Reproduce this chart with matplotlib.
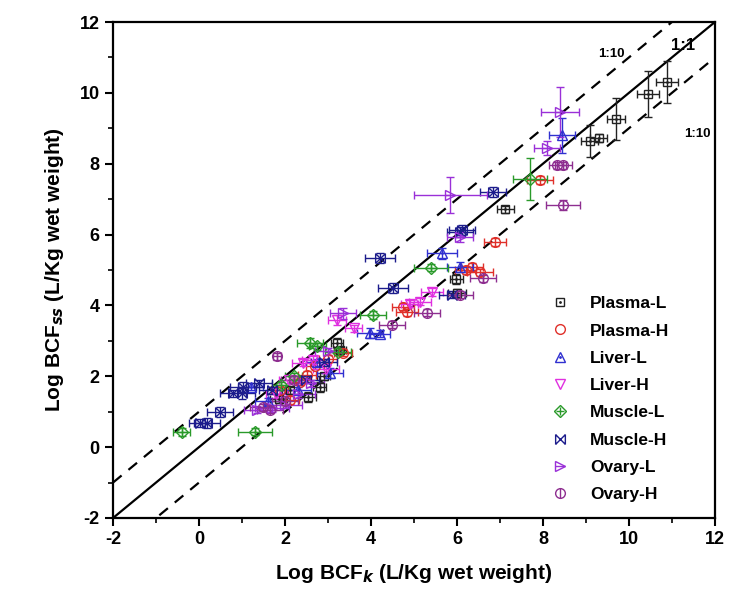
import numpy as np
import matplotlib
matplotlib.use('Agg')
import matplotlib.pyplot as plt
from matplotlib.lines import Line2D
from matplotlib.path import Path
from matplotlib.ticker import MultipleLocator

plt.rcParams['font.family'] = ['Liberation Sans', 'DejaVu Sans']
plt.rcParams['font.weight'] = 'bold'
plt.rcParams['axes.unicode_minus'] = False

# values (log BCF_k, log BCF_ss, x error, y error)
plasma_l_x = [10.88, 10.44, 9.70, 9.09, 9.30, 7.12, 5.98, 6.00, 3.21, 3.28, 2.81, 2.53, 2.12, 2.90, 1.85]
plasma_l_y = [10.31, 9.97, 9.26, 8.64, 8.72, 6.72, 4.75, 4.35, 2.94, 2.74, 1.70, 1.42, 1.61, 2.00, 1.35]
plasma_l_xe = [0.25, 0.25, 0.2, 0.2, 0.2, 0.2, 0.15, 0.2, 0.15, 0.15, 0.15, 0.2, 0.2, 0.15, 0.2]
plasma_l_ye = [0.6, 0.65, 0.6, 0.45, 0.12, 0.1, 0.15, 0.1, 0.15, 0.1, 0.15, 0.15, 0.1, 0.1, 0.1]

plasma_h_x = [7.93, 6.88, 6.35, 6.20, 6.53, 4.84, 4.74, 3.35, 2.35, 2.51, 1.88, 2.12, 2.70, 3.00]
plasma_h_y = [7.54, 5.79, 5.08, 5.00, 4.94, 3.81, 3.96, 2.66, 1.84, 2.04, 1.61, 1.33, 2.30, 2.50]
plasma_h_xe = [0.3, 0.25, 0.25, 0.25, 0.3, 0.25, 0.25, 0.2, 0.25, 0.2, 0.2, 0.2, 0.2, 0.2]
plasma_h_ye = [0.1, 0.1, 0.12, 0.1, 0.1, 0.1, 0.1, 0.1, 0.1, 0.1, 0.1, 0.1, 0.1, 0.1]

liver_l_x = [8.44, 5.65, 6.07, 3.98, 3.05, 4.20, 2.30, 1.60, 2.75, 1.20]
liver_l_y = [8.80, 5.47, 5.08, 3.22, 2.09, 3.20, 1.60, 1.30, 2.40, 1.70]
liver_l_xe = [0.3, 0.35, 0.3, 0.3, 0.3, 0.25, 0.3, 0.3, 0.25, 0.3]
liver_l_ye = [0.5, 0.15, 0.15, 0.15, 0.15, 0.1, 0.1, 0.1, 0.1, 0.1]

liver_h_x = [5.42, 5.14, 3.21, 2.42, 2.65, 4.90, 3.60, 2.10, 1.80, 2.95]
liver_h_y = [4.38, 4.10, 3.59, 2.38, 2.46, 4.05, 3.35, 1.90, 1.50, 2.20]
liver_h_xe = [0.25, 0.25, 0.2, 0.25, 0.25, 0.2, 0.2, 0.25, 0.25, 0.3]
liver_h_ye = [0.1, 0.1, 0.15, 0.1, 0.1, 0.1, 0.1, 0.1, 0.1, 0.1]

muscle_l_x = [-0.40, 1.30, 5.40, 7.70, 4.05, 2.58, 3.23, 1.90, 2.20, 2.75]
muscle_l_y = [0.43, 0.43, 5.06, 7.57, 3.73, 2.94, 2.69, 1.75, 2.00, 2.85]
muscle_l_xe = [0.2, 0.4, 0.4, 0.4, 0.3, 0.3, 0.3, 0.2, 0.2, 0.2]
muscle_l_ye = [0.12, 0.1, 0.1, 0.6, 0.1, 0.15, 0.1, 0.1, 0.1, 0.1]

muscle_h_x = [0.49, 0.19, 0.02, 1.00, 1.02, 0.79, 6.84, 6.12, 6.07, 4.21, 4.51, 5.88, 2.50, 1.40, 1.70, 2.90]
muscle_h_y = [0.99, 0.68, 0.68, 1.52, 1.70, 1.52, 7.20, 6.13, 6.07, 5.34, 4.49, 4.30, 1.90, 1.80, 1.60, 2.40]
muscle_h_xe = [0.3, 0.3, 0.25, 0.3, 0.3, 0.3, 0.3, 0.3, 0.3, 0.35, 0.35, 0.3, 0.3, 0.3, 0.3, 0.3]
muscle_h_ye = [0.15, 0.15, 0.1, 0.15, 0.15, 0.1, 0.15, 0.15, 0.15, 0.15, 0.15, 0.1, 0.1, 0.1, 0.1, 0.1]

ovary_l_x = [8.40, 8.09, 5.84, 6.07, 3.35, 1.35, 1.70, 2.00, 2.30, 2.60, 3.00]
ovary_l_y = [9.46, 8.44, 7.12, 5.93, 3.78, 1.05, 1.10, 1.20, 1.50, 1.80, 2.70]
ovary_l_xe = [0.45, 0.3, 0.85, 0.3, 0.3, 0.3, 0.4, 0.4, 0.4, 0.3, 0.3]
ovary_l_ye = [0.7, 0.2, 0.5, 0.15, 0.15, 0.1, 0.1, 0.1, 0.1, 0.1, 0.1]

ovary_h_x = [8.47, 8.33, 8.47, 6.60, 6.07, 5.30, 4.49, 1.81, 1.49, 1.65, 2.20, 2.00]
ovary_h_y = [6.83, 7.96, 7.96, 4.77, 4.30, 3.79, 3.45, 2.56, 1.13, 1.05, 1.90, 1.30]
ovary_h_xe = [0.4, 0.2, 0.2, 0.3, 0.3, 0.3, 0.3, 0.1, 0.3, 0.3, 0.3, 0.3]
ovary_h_ye = [0.15, 0.1, 0.1, 0.1, 0.1, 0.1, 0.1, 0.1, 0.1, 0.1, 0.1, 0.1]

labels = ['Plasma-L', 'Plasma-H', 'Liver-L', 'Liver-H', 'Muscle-L', 'Muscle-H', 'Ovary-L', 'Ovary-H']

# bowtie with crossing diagonals for Muscle-H
bowtie = Path([(-1, -1), (1, 1), (-1, 1), (1, -1),
               (-1, -1), (-1, 1), (1, -1), (1, 1)],
              [1, 2, 1, 2, 1, 2, 1, 2])

series = [
    (plasma_l_x, plasma_l_y, plasma_l_xe, plasma_l_ye, '#222222', 's', '.', 6),
    (plasma_h_x, plasma_h_y, plasma_h_xe, plasma_h_ye, '#e0302a', 'o', None, 7),
    (liver_l_x, liver_l_y, liver_l_xe, liver_l_ye, '#3030d0', '^', '.', 7),
    (liver_h_x, liver_h_y, liver_h_xe, liver_h_ye, '#e030e0', 'v', None, 7),
    (muscle_l_x, muscle_l_y, muscle_l_xe, muscle_l_ye, '#2a9a2a', 'D', '+', 6),
    (muscle_h_x, muscle_h_y, muscle_h_xe, muscle_h_ye, '#1c1c8c', bowtie, None, 7),
    (ovary_l_x, ovary_l_y, ovary_l_xe, ovary_l_ye, '#9a30d8', '>', '_', 7),
    (ovary_h_x, ovary_h_y, ovary_h_xe, ovary_h_ye, '#8e2e90', 'o', '|', 7),
]

fig = plt.figure(figsize=(7.31, 5.98), dpi=100)
ax = fig.add_axes([0.1546, 0.1338, 0.8234, 0.8294])

line = np.array([-2, 12])
ax.plot(line, line, color='black', lw=1.6, zorder=1)
ax.plot(line, line + 1, color='black', lw=1.6, ls=(0, (5, 4)), zorder=1)
ax.plot(line, line - 1, color='black', lw=1.6, ls=(0, (5, 4)), zorder=1)

handles = []
for (x, y, xe, ye, c, m, inner, ms), lab in zip(series, labels):
    ax.errorbar(x, y, xerr=xe, yerr=ye, fmt='none', ecolor=c, elinewidth=1.0,
                capsize=3, capthick=1.0, zorder=2)
    ax.plot(x, y, ls='none', marker=m, ms=ms, mfc='none', mec=c, mew=1.0, zorder=3)
    h = [Line2D([], [], ls='none', marker=m, ms=ms, mfc='none', mec=c, mew=1.0)]
    if inner is not None:
        ims = 2 if inner == '.' else ms
        ax.plot(x, y, ls='none', marker=inner, ms=ims, color=c, mew=1.0, zorder=3)
        h.append(Line2D([], [], ls='none', marker=inner, ms=ims, color=c, mew=1.0))
    handles.append(tuple(h))

ax.text(11.25, 11.35, '1:1', fontsize=12, fontweight='bold', ha='center', va='center')
ax.text(9.6, 11.1, '1:10', fontsize=9.5, fontweight='bold', ha='center', va='center')
ax.text(11.6, 8.85, '1:10', fontsize=9.5, fontweight='bold', ha='center', va='center')

ax.set_xlim(-2, 12)
ax.set_ylim(-2, 12)
ax.xaxis.set_major_locator(MultipleLocator(2))
ax.yaxis.set_major_locator(MultipleLocator(2))
ax.xaxis.set_minor_locator(MultipleLocator(1))
ax.yaxis.set_minor_locator(MultipleLocator(1))
ax.tick_params(which='major', direction='out', length=6, width=1.5, labelsize=13)
ax.tick_params(which='minor', direction='out', length=3.5, width=1.2)
for lab in ax.get_xticklabels() + ax.get_yticklabels():
    lab.set_fontweight('bold')
for s in ax.spines.values():
    s.set_linewidth(1.6)

ax.set_xlabel(r'Log BCF$_{\mathbf{\mathit{k}}}$ (L/Kg wet weight)', fontsize=15,
              fontweight='bold', labelpad=10)
ax.set_ylabel(r'Log BCF$_{\mathbf{\mathit{ss}}}$ (L/Kg wet weight)', fontsize=15,
              fontweight='bold', labelpad=10)

leg = ax.legend(handles, labels, loc='lower right', bbox_to_anchor=(0.95, 0.0),
                frameon=False, prop={'weight': 'bold', 'size': 12.5},
                handlelength=1.5, labelspacing=0.7, handletextpad=1.0)

plt.savefig('out.png', dpi=100)
